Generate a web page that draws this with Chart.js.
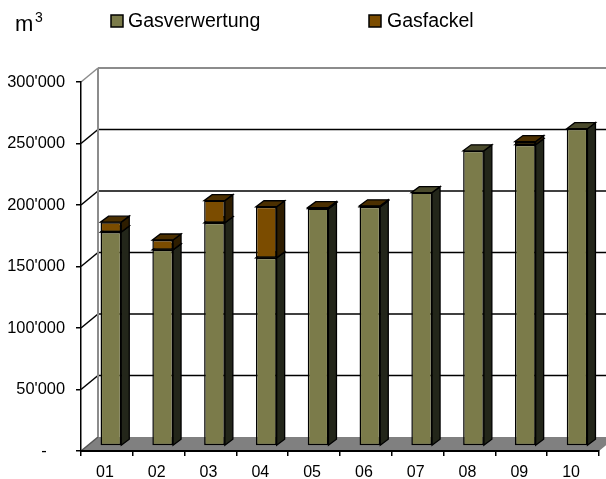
<!DOCTYPE html>
<html>
<head>
<meta charset="utf-8">
<title>Gas</title>
<script src="https://cdn.jsdelivr.net/npm/chart.js@4"></script>
<style>
    html, body { margin: 0; padding: 0; background: #fff; }
    canvas { display: block; }
</style>
</head>
<body>
<canvas id="myChart" width="606" height="479"></canvas>
<script>
var categories = ["01", "02", "03", "04", "05", "06", "07", "08", "09", "10"];
var gasverwertung = [174000, 159500, 181500, 153000, 193000, 194500, 206000, 240000, 245000, 258000];
var gasfackel = [8000, 8000, 18000, 41500, 800, 800, 0, 0, 2500, 0];
var yTicks = [0, 50000, 100000, 150000, 200000, 250000, 300000];
var yTickLabels = ["-    ", "50'000", "100'000", "150'000", "200'000", "250'000", "300'000"];

var fontName = "'Liberation Sans', Arial, sans-serif";
var green = "#7b7b4a", brown = "#7b4c00";

// depth of the back wall and of the bars, in pixels
var wallDx = 17, wallDy = -14;
var barDx = 4, barDy = -5, sideDx = 8, sideDy = -6;

function poly(ctx, pts, fill, stroke, lw) {
    ctx.beginPath();
    ctx.moveTo(pts[0][0], pts[0][1]);
    for (var i = 1; i < pts.length; i++) {
        ctx.lineTo(pts[i][0], pts[i][1]);
    }
    ctx.closePath();
    if (fill) {
        ctx.fillStyle = fill;
        ctx.fill();
    }
    if (stroke) {
        ctx.strokeStyle = stroke;
        ctx.lineWidth = lw || 1;
        ctx.stroke();
    }
}

function line(ctx, x1, y1, x2, y2, color, lw) {
    ctx.beginPath();
    ctx.moveTo(x1, y1);
    ctx.lineTo(x2, y2);
    ctx.strokeStyle = color;
    ctx.lineWidth = lw;
    ctx.stroke();
}

var wallPlugin = {
    id: "wall",
    beforeDraw: function (chart) {
        var ctx = chart.ctx, s = chart.scales.y, a = chart.chartArea;
        ctx.save();
        // floor
        var y0 = s.getPixelForValue(0);
        poly(ctx, [[a.left, y0], [a.left + wallDx, y0 + wallDy], [a.right + wallDx, y0 + wallDy], [a.right, y0]], "#808080");
        // gridlines on the back wall and their diagonals
        yTicks.forEach(function (v) {
            var y = s.getPixelForValue(v);
            var top = v == yTicks[yTicks.length - 1];
            var color = top ? "#8c8c8c" : "#000";
            if (v > 0) {
                line(ctx, a.left + wallDx, y + wallDy, a.right + wallDx, y + wallDy, color, top ? 2 : 1.5);
            }
            line(ctx, a.left, y, a.left + wallDx, y + wallDy, top ? color : (v == 0 ? "#555" : "#000"), 1.5);
        });
        // left edge of the back wall
        line(ctx, a.left + wallDx, s.getPixelForValue(0) + wallDy, a.left + wallDx, s.getPixelForValue(300000) + wallDy, "#8c8c8c", 2);
        ctx.restore();
    },
    beforeDatasetsDraw: function (chart) {
        var ctx = chart.ctx;
        ctx.save();
        ctx.translate(barDx, barDy);
        var faces = [
            { side: "#23261a", top: "#4a4a2c" },
            { side: "#2e1d00", top: "#4b2f00" },
        ];
        chart.data.datasets.forEach(function (ds, di) {
            chart.getDatasetMeta(di).data.forEach(function (bar, i) {
                if (!ds.data[i]) {
                    return;
                }
                var p = bar.getProps(["x", "y", "base", "width"], true);
                var l = p.x - p.width / 2, r = p.x + p.width / 2;
                poly(ctx, [[r, p.y], [r + sideDx, p.y + sideDy], [r + sideDx, p.base + sideDy], [r, p.base]], faces[di].side, "#000", 1.3);
                poly(ctx, [[l, p.y], [l + sideDx, p.y + sideDy], [r + sideDx, p.y + sideDy], [r, p.y]], faces[di].top, "#000", 1.3);
            });
        });
    },
    afterDatasetsDraw: function (chart) {
        chart.ctx.restore();
    },
    afterDraw: function (chart) {
        var ctx = chart.ctx;
        ctx.save();
        ctx.textBaseline = "alphabetic";
        ctx.textAlign = "left";
        ctx.fillStyle = "#000";
        ctx.font = "22px " + fontName;
        ctx.fillText("m", 15, 31);
        ctx.font = "14px " + fontName;
        ctx.fillText("3", 35, 22);
        // legend
        var legendX = [111, 369], textX = [128, 387];
        ctx.font = "19.5px " + fontName;
        chart.data.datasets.forEach(function (ds, i) {
            ctx.fillStyle = ds.backgroundColor;
            ctx.strokeStyle = "#000";
            ctx.lineWidth = 1.5;
            ctx.fillRect(legendX[i], 15, 12, 12);
            ctx.strokeRect(legendX[i], 15, 12, 12);
            ctx.fillStyle = "#000";
            ctx.fillText(ds.label, textX[i], 27);
        });
        ctx.restore();
    },
};

new Chart(document.getElementById("myChart"), {
    type: "bar",
    data: {
        labels: categories,
        datasets: [
            { label: "Gasverwertung", data: gasverwertung, backgroundColor: green },
            { label: "Gasfackel", data: gasfackel, backgroundColor: brown },
        ],
    },
    options: {
        responsive: false,
        animation: false,
        layout: { padding: { top: 82, right: 7, left: 0, bottom: 0 } },
        datasets: {
            bar: {
                barPercentage: 1,
                categoryPercentage: 0.4,
                borderWidth: 1.5,
                borderColor: "#000",
                borderSkipped: false,
                inflateAmount: 0,
                clip: false,
            },
        },
        plugins: { legend: { display: false }, title: { display: false }, tooltip: { enabled: false } },
        scales: {
            x: {
                stacked: true,
                afterFit: function (s) { s.height = 28; },
                grid: { drawOnChartArea: false, color: "#000", tickLength: 5, lineWidth: 1.5 },
                border: { color: "#000", width: 2 },
                ticks: { color: "#000", font: { family: fontName, size: 16 }, padding: 7, labelOffset: -2, maxRotation: 0 },
            },
            y: {
                stacked: true,
                min: 0,
                max: 300000,
                afterFit: function (s) { s.width = 81; },
                afterBuildTicks: function (s) {
                    s.ticks = yTicks.map(function (v) { return { value: v }; });
                },
                grid: { drawOnChartArea: false, color: "#000", tickLength: 5, lineWidth: 1.5 },
                border: { color: "#000", width: 1.5 },
                ticks: {
                    color: "#000",
                    font: { family: fontName, size: 16.4 },
                    padding: 11,
                    callback: function (v) { return yTickLabels[yTicks.indexOf(v)]; },
                },
            },
        },
    },
    plugins: [wallPlugin],
});
</script>
</body>
</html>
